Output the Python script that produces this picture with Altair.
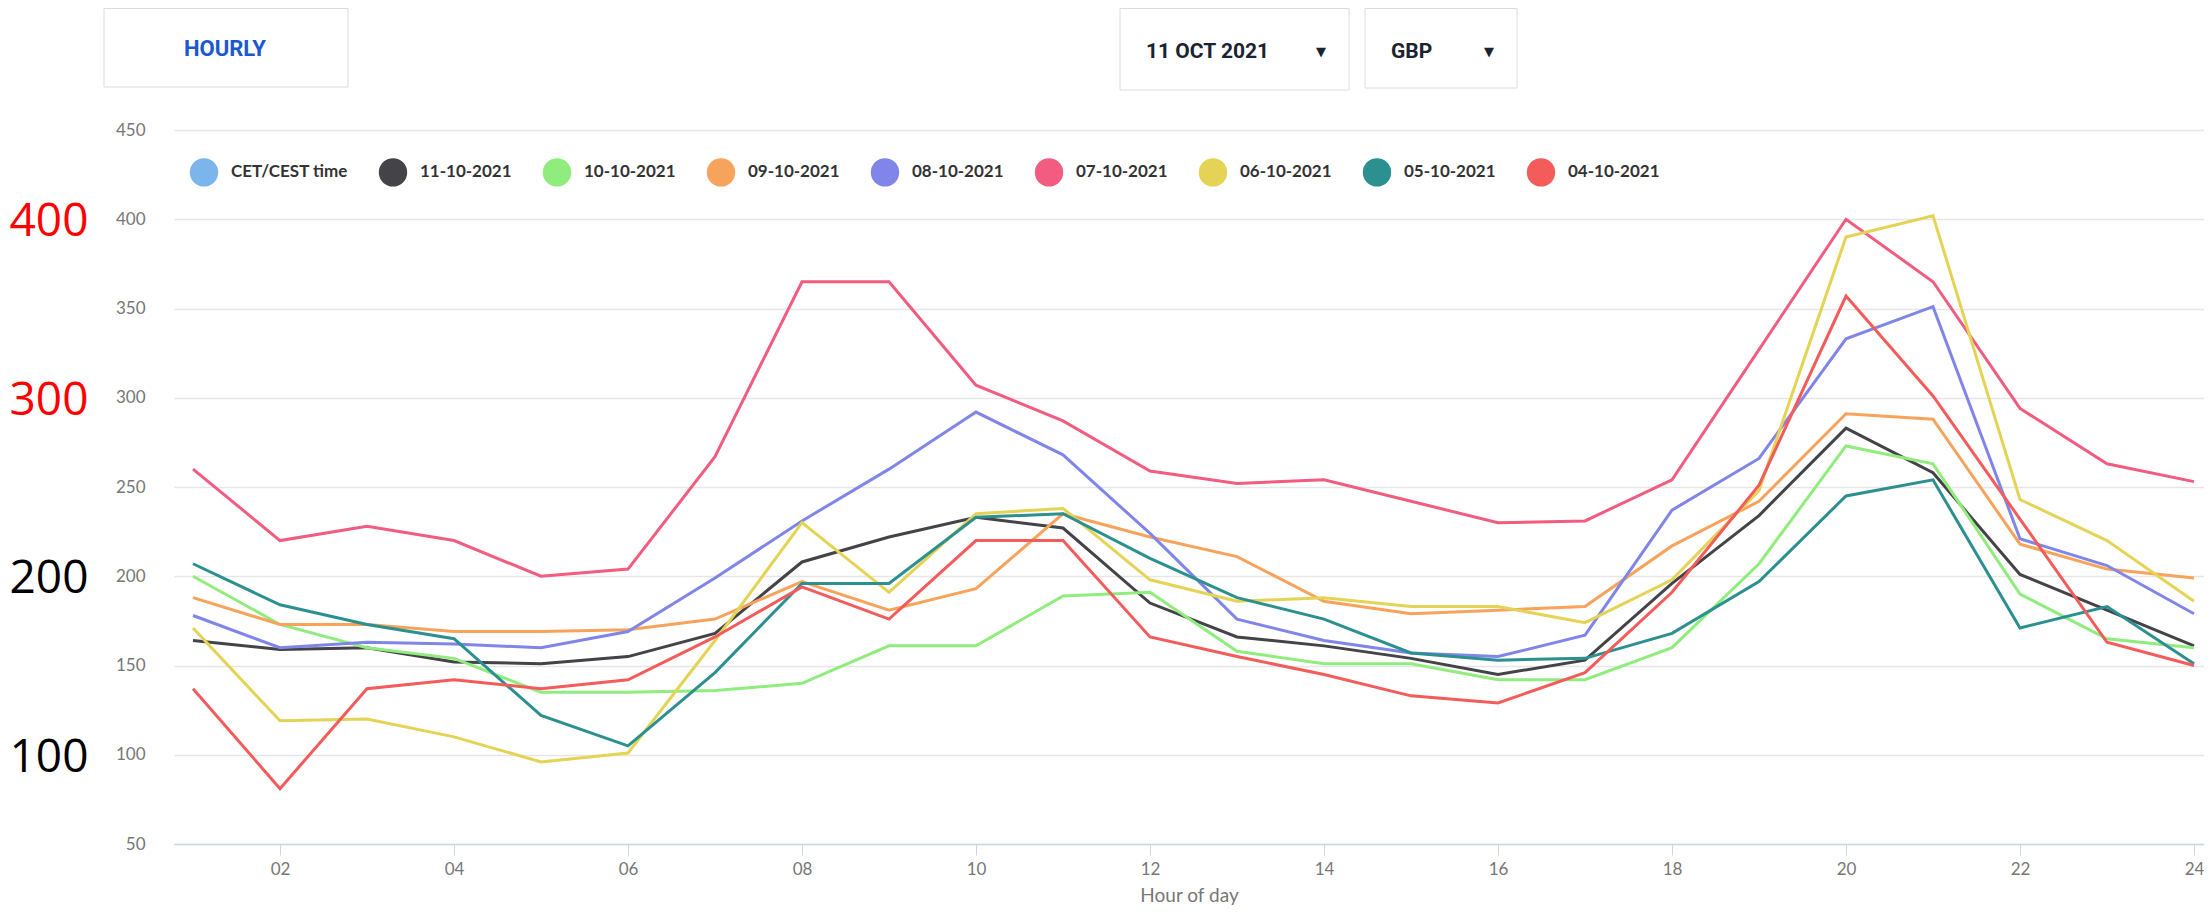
import altair as alt
import pandas as pd

# ---------------- data ----------------
hours = list(range(1, 25))
series_names = ["CET/CEST time", "11-10-2021", "10-10-2021", "09-10-2021", "08-10-2021",
                "07-10-2021", "06-10-2021", "05-10-2021", "04-10-2021"]
series_colors = ["#7cb5ec", "#434348", "#90ed7d", "#f7a35c", "#8085e9",
                 "#f15c80", "#e4d354", "#2b908f", "#f45b5b"]

d_11_10 = [164, 159, 160, 152, 151, 155, 168, 208, 222, 233, 227, 185, 166, 161, 154, 145, 153, 196, 234, 283, 258, 201, 181, 161]
d_10_10 = [200, 173, 160, 154, 135, 135, 136, 140, 161, 161, 189, 191, 158, 151, 151, 142, 142, 160, 207, 273, 263, 190, 165, 160]
d_09_10 = [188, 173, 173, 169, 169, 170, 176, 197, 181, 193, 235, 222, 211, 186, 179, 181, 183, 217, 242, 291, 288, 218, 204, 199]
d_08_10 = [178, 160, 163, 162, 160, 169, 199, 231, 260, 292, 268, 224, 176, 164, 157, 155, 167, 237, 266, 333, 351, 221, 206, 179]
d_07_10 = [260, 220, 228, 220, 200, 204, 267, 365, 365, 307, 287, 259, 252, 254, 242, 230, 231, 254, 327, 400, 365, 294, 263, 253]
d_06_10 = [171, 119, 120, 110, 96, 101, 164, 230, 191, 235, 238, 198, 186, 188, 183, 183, 174, 198, 248, 390, 402, 243, 220, 186]
d_05_10 = [207, 184, 173, 165, 122, 105, 146, 196, 196, 233, 235, 210, 188, 176, 157, 153, 154, 168, 197, 245, 254, 171, 183, 151]
d_04_10 = [137, 81, 137, 142, 137, 142, 166, 194, 176, 220, 220, 166, 155, 145, 133, 129, 146, 191, 251, 357, 301, 232, 163, 150]

x_tick_values = list(range(2, 25, 2))
y_tick_values = list(range(50, 451, 50))
red_notes = [400, 300]
black_notes = [200, 100]

series_values = [d_11_10, d_10_10, d_09_10, d_08_10, d_07_10, d_06_10, d_05_10, d_04_10]
rows = []
for name, vals in zip(series_names[1:], series_values):
    for h, v in zip(hours, vals):
        rows.append({"hour": h, "price": v, "day": name})
df = pd.DataFrame(rows)

one = pd.DataFrame({"k": [0]})
red_df = pd.DataFrame({"price": red_notes, "label": [str(v) for v in red_notes]})
black_df = pd.DataFrame({"price": black_notes, "label": [str(v) for v in black_notes]})

# filled-disc legend symbol drawn with stroke only (concentric rings)
def ring(r):
    return f"M{r},0A{r},{r},0,1,1,{-r},0A{r},{r},0,1,1,{r},0Z"
disc_path = " ".join(ring(r) for r in (0.8, 0.5, 0.21))

# ---------------- encodings ----------------
x_enc = alt.X(
    "hour:Q",
    scale=alt.Scale(domain=[0.7816, 24.115], nice=False, zero=False),
    axis=alt.Axis(
        values=x_tick_values,
        labelExpr="datum.value < 10 ? '0' + datum.value : '' + datum.value",
        title="Hour of day", grid=False,
        tickSize=11, tickColor="#ccd6eb", domainColor="#ccd6eb", domainWidth=1.5,
        labelPadding=6, labelFontSize=17, labelColor="#777777", labelFont="Lato",
        labelFlush=False, labelOverlap=False,
        titleFontSize=19, titleColor="#777777", titleFont="Lato", titleFontWeight="normal",
        titleY=57, titleBaseline="alphabetic",
    ),
)
y_enc = alt.Y(
    "price:Q",
    scale=alt.Scale(domain=[50, 450], nice=False, zero=False),
    axis=alt.Axis(
        values=y_tick_values, title=None, grid=True, gridColor="#e6e6e6", gridWidth=1.5,
        ticks=False, domain=False, labelPadding=29, labelFontSize=17,
        labelColor="#777777", labelFont="Lato", labelFlush=False,
    ),
)

lines = alt.Chart(df).mark_line(strokeWidth=3).encode(
    x=x_enc, y=y_enc,
    color=alt.Color(
        "day:N",
        scale=alt.Scale(domain=series_names, range=series_colors),
        legend=alt.Legend(
            orient="none", legendX=13, legendY=25, direction="horizontal", title=None,
            symbolType=disc_path, symbolSize=784, symbolStrokeWidth=6, symbolOpacity=1,
            labelFontSize=17, labelFontWeight="bold", labelColor="#333333", labelFont="Lato",
            labelOffset=10, columnPadding=21, padding=0,
        ),
    ),
)

red_text = alt.Chart(red_df).mark_text(
    color="#ff0000", font="Open Sans", fontSize=46, align="center", baseline="middle", dy=3
).encode(x=alt.value(-125), y=y_enc, text="label:N")
black_text = alt.Chart(black_df).mark_text(
    color="#000000", font="Open Sans", fontSize=46, align="center", baseline="middle", dy=3
).encode(x=alt.value(-125), y=y_enc, text="label:N")

# ---------------- top UI controls ----------------
def box(x0, x1, y0, y1):
    return alt.Chart(one).mark_rect(fill="white", stroke="#dcdcdc", strokeWidth=1).encode(
        x=alt.value(x0), x2=alt.value(x1), y=alt.value(y0), y2=alt.value(y1)
    )

def label(txt, xp, yp, color, size, align="left", font="Roboto", weight="bold"):
    return alt.Chart(one).mark_text(
        text=txt, color=color, fontSize=size, font=font, fontWeight=weight,
        align=align, baseline="middle"
    ).encode(x=alt.value(xp), y=alt.value(yp))

ui = [
    box(-70, 174, -121.5, -43),
    box(946, 1175, -121.5, -40),
    box(1191, 1343, -121.5, -42),
    label("HOURLY", 51, -81, "#1a58d2", 22, align="center"),
    label("11 OCT 2021", 972, -78, "#1b2230", 21),
    label("\u25bc", 1147, -78, "#1b2230", 13, align="center", font="DejaVu Sans"),
    label("GBP", 1217, -78, "#1b2230", 21),
    label("\u25bc", 1315, -78, "#1b2230", 13, align="center", font="DejaVu Sans"),
]

chart = alt.layer(lines, red_text, black_text, *ui).properties(
    width=2030, height=714,
    padding={"left": 166, "top": 122, "right": 0, "bottom": 62},
    autosize=alt.AutoSizeParams(type="none"),
    background="white",
).configure_view(stroke=None)

chart.save("out.html", embed_options={"renderer": "svg", "actions": False})
